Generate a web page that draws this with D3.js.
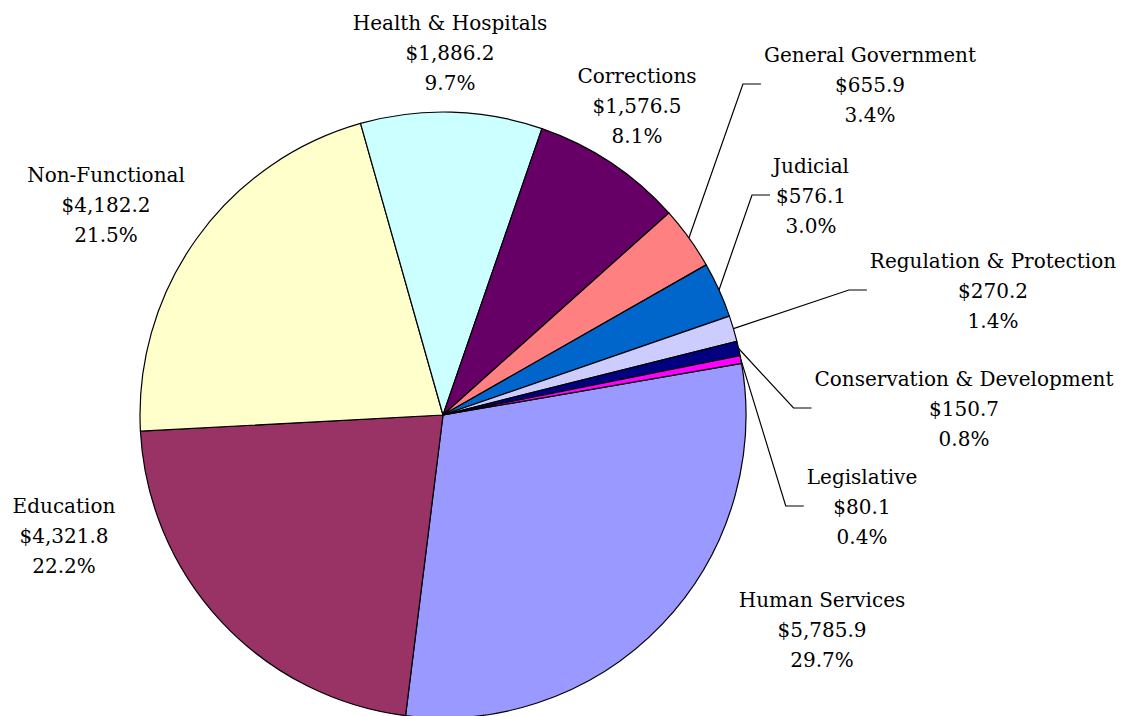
<!DOCTYPE html>
<html>
<head>
<meta charset="utf-8">
<script src="https://cdn.jsdelivr.net/npm/d3@7"></script>
<style>
  html, body { margin: 0; padding: 0; background: #fff; }
  svg { display: block; }
  .c-label { font-family: "DejaVu Serif", serif; font-size: 20px; fill: #000; }
</style>
</head>
<body>
<svg class="js-render-chart" width="1129" height="716"></svg>
<script>
"use strict";

//data

const categories = [
  "Human Services",
  "Education",
  "Non-Functional",
  "Health & Hospitals",
  "Corrections",
  "General Government",
  "Judicial",
  "Regulation & Protection",
  "Conservation & Development",
  "Legislative"
];

const values = [5785.9, 4321.8, 4182.2, 1886.2, 1576.5, 655.9, 576.1, 270.2, 150.7, 80.1];

const colors = [
  "#9999ff", "#993366", "#ffffcc", "#ccffff", "#660066",
  "#ff8080", "#0066cc", "#ccccff", "#000080", "#ff00ff"
];

//layout (label centre x, first baseline y, leader line?)

const labelLayout = [
  [822, 607, false],
  [64, 513, false],
  [106, 182, false],
  [450, 30, false],
  [637, 83, false],
  [870, 62, true],
  [811, 173, true],
  [993, 268, true],
  [964, 386, true],
  [862, 484, true]
];

//format

const fmtMoney = (n) => `$${d3.format(",.1f")(n)}`;

const fmtPct = (n, total) => `${d3.format(".1f")(n / total * 100)}%`;

//render chart

const renderChart = () => {

  const cx = 443;
  const cy = 415;
  const r = 303;
  const lineH = 30;
  const start = 80.2 * Math.PI / 180;

  const svg = d3.select(".js-render-chart");

  const total = d3.sum(values);

  const pieFn = d3.pie()
    .sort(null)
    .startAngle(start)
    .endAngle(start + 2 * Math.PI);

  const arcFn = d3.arc()
    .innerRadius(0)
    .outerRadius(r);

  const data = pieFn(values);

  //slices

  const chart = svg.append("g")
    .attr("transform", `translate(${cx}, ${cy})`);

  chart.selectAll("path")
    .data(data)
    .enter()
    .append("path")
    .attr("d", (d) => arcFn(d))
    .attr("fill", (d) => colors[d.index])
    .attr("stroke", "#000")
    .attr("stroke-width", 1.2)
    .attr("stroke-linejoin", "round");

  //labels

  const labels = svg.append("g");

  data.forEach((d, i) => {

    const [x, y, leader] = labelLayout[i];

    const lines = [categories[i], fmtMoney(d.value), fmtPct(d.value, total)];

    const text = labels.append("text")
      .attr("class", "c-label")
      .attr("text-anchor", "middle");

    lines.forEach((str, j) => {
      text.append("tspan")
        .attr("x", x)
        .attr("y", y + j * lineH)
        .text(str);
    });

    if (!leader) return;

    //leader line

    const w = d3.max(text.selectAll("tspan").nodes(), (n) => n.getComputedTextLength());
    const mid = (d.startAngle + d.endAngle) / 2;

    const x0 = cx + r * Math.sin(mid);
    const y0 = cy - r * Math.cos(mid);
    const x2 = x - w / 2 - 3;
    const y2 = y + lineH - 8;
    const x1 = x2 - 18;

    labels.append("polyline")
      .attr("points", `${x0},${y0} ${x1},${y2} ${x2},${y2}`)
      .attr("fill", "none")
      .attr("stroke", "#000")
      .attr("stroke-width", 1.2);

  });

};

renderChart();
</script>
</body>
</html>
